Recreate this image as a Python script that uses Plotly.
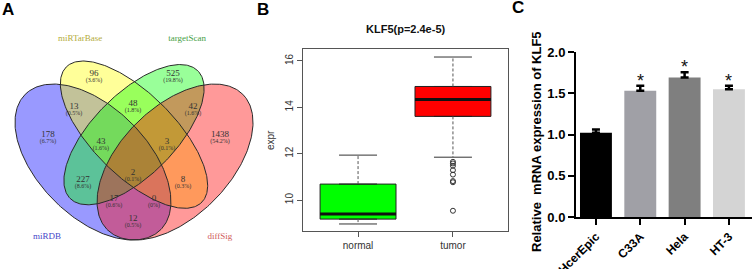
import numpy as np
import plotly.graph_objects as go

# ---------------- Panel A data (Venn counts) ----------------
set_names = ["miRDB", "miRTarBase", "targetScan", "diffSig"]
region_keys = ["D", "M", "T", "S", "DM", "MT", "TS", "DMT", "MTS",
               "DT", "DMTS", "MS", "DTS", "DMS", "DS"]
region_counts = [178, 96, 525, 1438, 13, 48, 42, 43, 3, 227, 2, 8, 17, 0, 12]

# ---------------- Panel B data (boxplot stats) ----------------
box_groups = ["normal", "tumor"]
box_low = [8.97, 11.85]
box_q1 = [9.18, 13.61]
box_median = [9.40, 14.34]
box_q3 = [10.69, 14.90]
box_high = [11.94, 16.17]
tumor_outliers = [11.65, 11.58, 11.48, 11.29, 11.10, 10.82, 10.77, 9.54]

# ---------------- Panel C data (bar chart) ----------------
cell_lines = ["HcerEpic", "C33A", "Hela", "HT-3"]
rel_expr = [1.02, 1.53, 1.69, 1.55]
rel_err = [0.04, 0.06, 0.066, 0.04]
significant = [False, True, True, True]

# ---------------- layout / style (not data) ----------------
W, H = 752, 269
def px_x(p): return p / W
def px_y(p): return (H - p) / H

# Venn ellipse geometry: cx, cy, a, b, rotation(deg), fill
ellipse_geom = {
    "miRDB":      (0.35, 0.47, 0.35, 0.20, 135, "rgba(0,0,255,0.4)"),
    "miRTarBase": (0.50, 0.57, 0.35, 0.15, 135, "rgba(255,255,0,0.4)"),
    "targetScan": (0.50, 0.57, 0.33, 0.15, 45, "rgba(0,255,0,0.4)"),
    "diffSig":    (0.65, 0.47, 0.35, 0.20, 45, "rgba(255,0,0,0.4)"),
}
draw_order = ["miRDB", "miRTarBase", "targetScan", "diffSig"]
label_pos = {
    "miRDB": (0.182, 0.196, "#4646c8"),
    "miRTarBase": (0.303, 0.920, "#b4ac3c"),
    "targetScan": (0.694, 0.920, "#46a046"),
    "diffSig": (0.814, 0.196, "#d05a5a"),
}
region_pos = {
    "M": (0.354, 0.792), "T": (0.643, 0.792), "DM": (0.281, 0.671),
    "MT": (0.496, 0.682), "TS": (0.716, 0.671), "D": (0.186, 0.569),
    "S": (0.814, 0.569), "DMT": (0.379, 0.543), "MTS": (0.621, 0.543),
    "DT": (0.314, 0.404), "DMTS": (0.496, 0.430), "MS": (0.679, 0.404),
    "DTS": (0.427, 0.335), "DMS": (0.573, 0.335), "DS": (0.496, 0.262),
}
SERIF = "Liberation Serif, DejaVu Serif, serif"
SANS = "Liberation Sans, Arial, sans-serif"

fig = go.Figure()

# ---- Panel A ----
t = np.linspace(0, 2 * np.pi, 300)
outlines = []
for name in draw_order:
    cx, cy, a, b, rot, fc = ellipse_geom[name]
    th = np.deg2rad(rot)
    ex = cx + a * np.cos(t) * np.cos(th) - b * np.sin(t) * np.sin(th)
    ey = cy + a * np.cos(t) * np.sin(th) + b * np.sin(t) * np.cos(th)
    outlines.append((ex, ey))
    fig.add_trace(go.Scatter(x=ex, y=ey, mode="lines", fill="toself",
                             fillcolor=fc, line=dict(width=0),
                             hoverinfo="skip", xaxis="x", yaxis="y"))
for ex, ey in outlines:
    fig.add_trace(go.Scatter(x=ex, y=ey, mode="lines",
                             line=dict(color="#2a2a2a", width=1),
                             hoverinfo="skip", xaxis="x", yaxis="y"))

total = sum(region_counts)
nx = [region_pos[k][0] for k in region_keys]
ny = [region_pos[k][1] for k in region_keys]
pct_txt = []
for c in region_counts:
    p = 100.0 * c / total
    pct_txt.append("(0%)" if c == 0 else "(%.1f%%)" % p)
fig.add_trace(go.Scatter(x=nx, y=ny, mode="text",
                         text=[str(c) for c in region_counts],
                         textfont=dict(family=SERIF, size=9, color="#333"),
                         hoverinfo="skip", xaxis="x", yaxis="y"))
fig.add_trace(go.Scatter(x=nx, y=[v - 0.023 for v in ny], mode="text",
                         text=pct_txt,
                         textfont=dict(family=SERIF, size=6, color="#333"),
                         hoverinfo="skip", xaxis="x", yaxis="y"))
fig.add_trace(go.Scatter(x=[label_pos[s][0] for s in set_names],
                         y=[label_pos[s][1] for s in set_names],
                         mode="text", text=set_names,
                         textfont=dict(family=SERIF, size=9,
                                       color=[label_pos[s][2] for s in set_names]),
                         hoverinfo="skip", xaxis="x", yaxis="y"))

# ---- Panel B ----
box_fill = ["#00ff00", "#ff0000"]
for i, g in enumerate(box_groups):
    xi = i + 1
    fig.add_trace(go.Box(x=[xi], q1=[box_q1[i]], median=[box_median[i]],
                         q3=[box_q3[i]], lowerfence=[box_q1[i]], upperfence=[box_q3[i]],
                         width=0.8, fillcolor=box_fill[i],
                         line=dict(color="#222", width=1), hoverinfo="skip",
                         xaxis="x2", yaxis="y2"))
    fig.add_trace(go.Scatter(x=[xi - 0.4, xi + 0.4], y=[box_median[i]] * 2, mode="lines",
                             line=dict(color="#111", width=3), hoverinfo="skip",
                             xaxis="x2", yaxis="y2"))
    fig.add_trace(go.Scatter(x=[xi, xi, None, xi, xi],
                             y=[box_q3[i], box_high[i], None, box_q1[i], box_low[i]],
                             mode="lines", line=dict(color="#555", width=1, dash="3px,2px"),
                             hoverinfo="skip", xaxis="x2", yaxis="y2"))
    fig.add_trace(go.Scatter(x=[xi - 0.2, xi + 0.2, None, xi - 0.2, xi + 0.2],
                             y=[box_high[i], box_high[i], None, box_low[i], box_low[i]],
                             mode="lines", line=dict(color="#333", width=1),
                             hoverinfo="skip", xaxis="x2", yaxis="y2"))
fig.add_trace(go.Scatter(x=[2] * len(tumor_outliers), y=tumor_outliers, mode="markers",
                         marker=dict(symbol="circle-open", size=5, color="#333",
                                     line=dict(width=1, color="#333")),
                         hoverinfo="skip", xaxis="x2", yaxis="y2"))

# ---- Panel C ----
bar_colors = ["#000000", "#a0a0a6", "#7f7f7f", "#d4d4d4"]
fig.add_trace(go.Bar(x=cell_lines, y=rel_expr, width=0.72,
                     marker=dict(color=bar_colors, line=dict(width=0)),
                     error_y=dict(type="data", symmetric=False, array=rel_err,
                                  arrayminus=[0] * len(rel_err),
                                  color="#000", thickness=2.5, width=4),
                     hoverinfo="skip", xaxis="x3", yaxis="y3"))

annotations = []
for i, s in enumerate(significant):
    if s:
        annotations.append(dict(x=cell_lines[i], y=rel_expr[i] + rel_err[i],
                                xref="x3", yref="y3", text="*", showarrow=False,
                                xanchor="center", yanchor="bottom", yshift=-7,
                                font=dict(family=SANS, size=18, color="#111")))
for letter, xp, yp in [("A", 8, 9), ("B", 263, 9), ("C", 518, 8)]:
    annotations.append(dict(x=px_x(xp), y=px_y(yp), xref="paper", yref="paper",
                            text="<b>%s</b>" % letter, showarrow=False,
                            xanchor="center", yanchor="middle",
                            font=dict(family=SANS, size=17, color="#000")))
annotations.append(dict(x=px_x(405), y=px_y(29), xref="paper", yref="paper",
                        text="<b>KLF5(p=2.4e-5)</b>", showarrow=False,
                        xanchor="center", yanchor="middle",
                        font=dict(family=SANS, size=11, color="#111")))
annotations.append(dict(x=px_x(270), y=px_y(140), xref="paper", yref="paper",
                        text="expr", textangle=-90, showarrow=False,
                        xanchor="center", yanchor="middle",
                        font=dict(family=SANS, size=10, color="#333")))
annotations.append(dict(x=px_x(537), y=px_y(142), xref="paper", yref="paper",
                        text="<b>Relative  mRNA expression of KLF5</b>", textangle=-90,
                        showarrow=False, xanchor="center", yanchor="middle",
                        font=dict(family=SANS, size=13, color="#000")))

venn_x0 = 2.8 / 273.6
venn_x1 = (256 + 2.8) / 273.6
venn_y0 = 0.185 - 29 / 273.6
venn_y1 = 0.185 + 210 / 273.6

axis_off = dict(visible=False, showgrid=False, zeroline=False, fixedrange=True,
                automargin=False)

fig.update_layout(
    template="none",
    width=W, height=H, autosize=False,
    margin=dict(l=0, r=0, t=0, b=0, pad=0, autoexpand=False),
    paper_bgcolor="white", plot_bgcolor="rgba(0,0,0,0)",
    showlegend=False,
    annotations=annotations,
    xaxis=dict(axis_off, domain=[0, px_x(256)], range=[venn_x0, venn_x1]),
    yaxis=dict(axis_off, domain=[0, px_y(30)], range=[venn_y0, venn_y1]),
    xaxis2=dict(domain=[px_x(303), px_x(508)], range=[0.42, 2.58],
                tickvals=[1, 2], ticktext=box_groups, ticks="outside", ticklen=5,
                tickcolor="#555", showline=True, linecolor="#555", linewidth=1,
                mirror=True, showgrid=False, zeroline=False, anchor="y2", automargin=False,
                tickfont=dict(family=SANS, size=10, color="#333")),
    yaxis2=dict(domain=[px_y(231), px_y(49)], range=[8.667, 16.516],
                tickvals=[10, 12, 14, 16], ticks="outside", ticklen=5, tickangle=-90,
                tickcolor="#555", showline=True, linecolor="#555", linewidth=1,
                mirror=True, showgrid=False, zeroline=False, anchor="x2", automargin=False,
                tickfont=dict(family=SANS, size=10, color="#333")),
    xaxis3=dict(domain=[px_x(576), 1.0], range=[-0.45, 3.52], type="category",
                ticks="outside", ticklen=6, tickwidth=2, tickcolor="#000",
                showline=True, linecolor="#000", linewidth=2, tickangle=-45,
                showgrid=False, zeroline=False, anchor="y3", automargin=False,
                tickfont=dict(family=SANS, size=12, color="#000", weight="bold")),
    yaxis3=dict(domain=[px_y(217), px_y(52)], range=[0, 2.0],
                tickvals=[0, 0.5, 1.0, 1.5, 2.0], ticktext=["0.0", "0.5", "1.0", "1.5", "2.0"],
                ticks="outside", ticklen=6, tickwidth=2, tickcolor="#000",
                showline=True, linecolor="#000", linewidth=2,
                showgrid=False, zeroline=False, anchor="x3", automargin=False,
                tickfont=dict(family=SANS, size=13, color="#000", weight="bold")),
)

fig.write_html("out.html",
               config={"displayModeBar": False, "staticPlot": True},
               post_script="document.body.style.margin='0px';"
                           "document.body.style.padding='0px';"
                           "document.body.style.overflow='hidden';")
